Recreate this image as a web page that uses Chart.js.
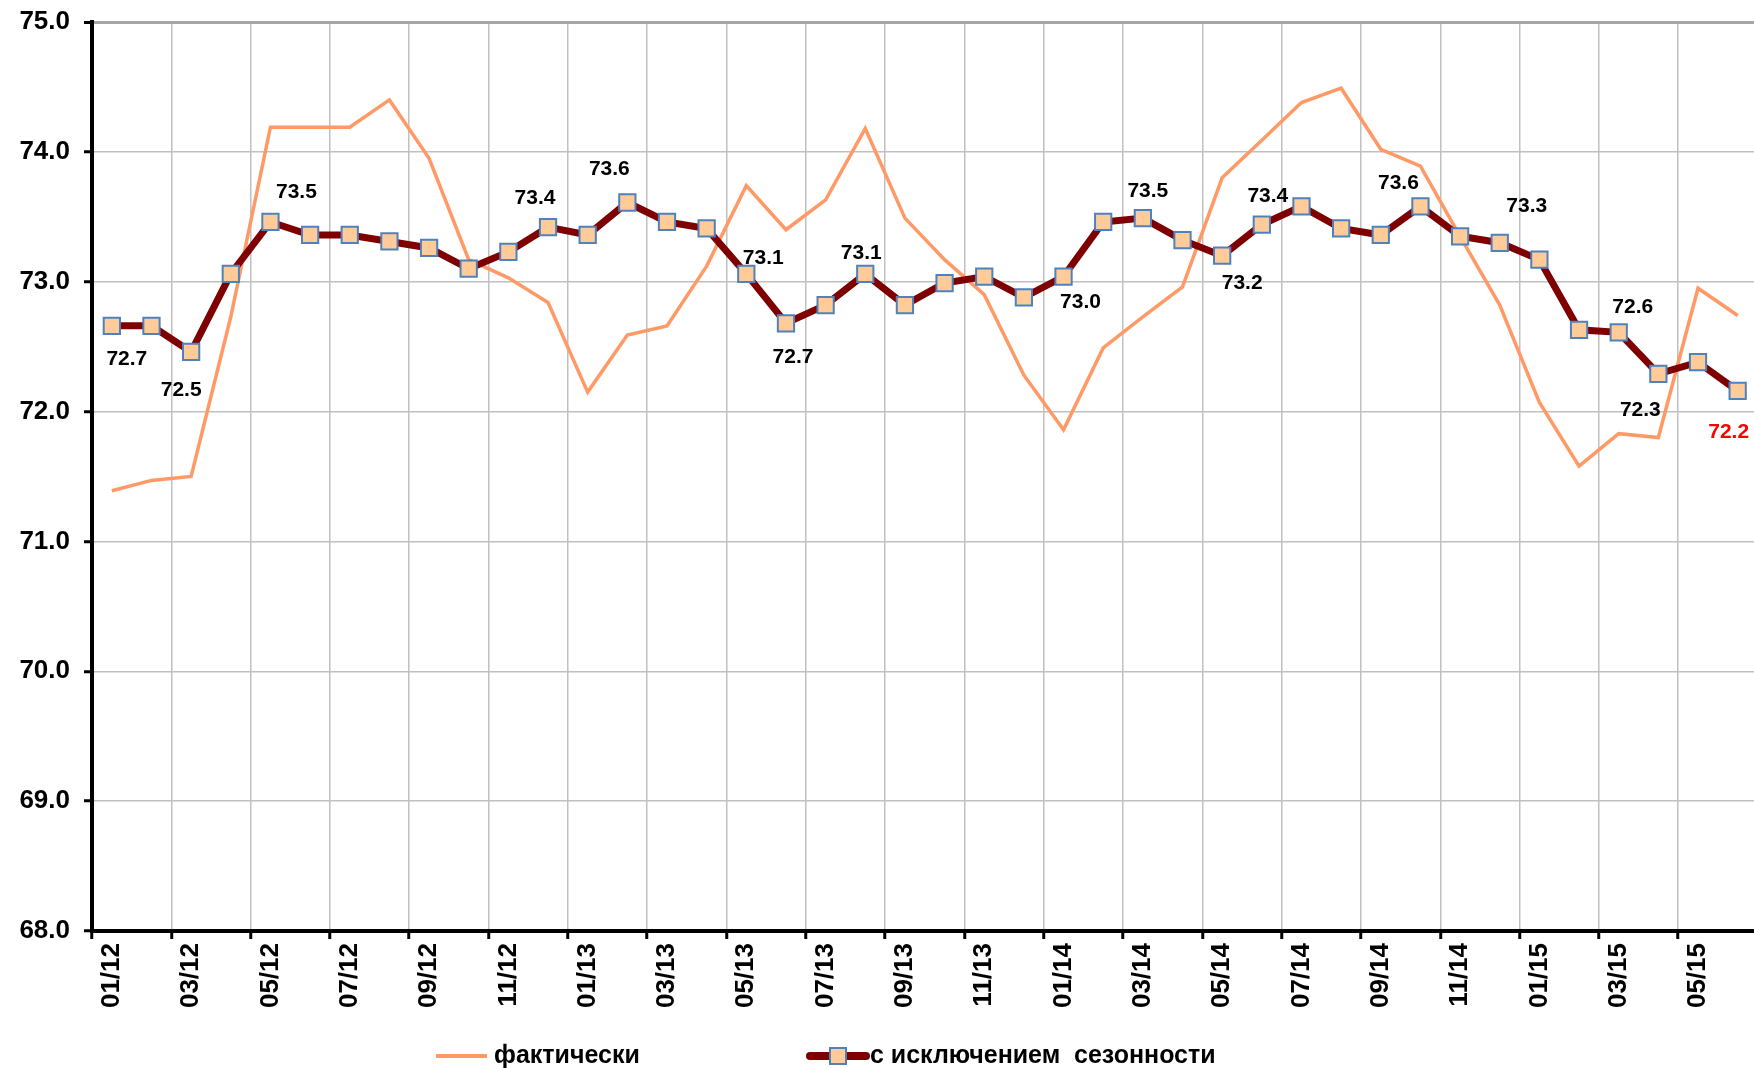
<!DOCTYPE html>
<html>
<head>
<meta charset="utf-8">
<script src="https://cdn.jsdelivr.net/npm/chart.js@4.4.1/dist/chart.umd.min.js"></script>
<style>
  html, body { margin: 0; padding: 0; background: #ffffff; overflow: hidden; }
  #wrap { width: 1771px; height: 1068px; position: relative; }
</style>
</head>
<body>
<div id="wrap"><canvas id="chart"></canvas></div>
<script>
const months = [
  "01/12", "02/12", "03/12", "04/12", "05/12", "06/12", "07/12", "08/12", "09/12", "10/12", "11/12", "12/12",
  "01/13", "02/13", "03/13", "04/13", "05/13", "06/13", "07/13", "08/13", "09/13", "10/13", "11/13", "12/13",
  "01/14", "02/14", "03/14", "04/14", "05/14", "06/14", "07/14", "08/14", "09/14", "10/14", "11/14", "12/14",
  "01/15", "02/15", "03/15", "04/15", "05/15", "06/15",
];

const actual = [
  71.39, 71.47, 71.50, 72.73, 74.19, 74.19, 74.19, 74.40, 73.95, 73.17, 73.03, 72.84,
  72.15, 72.59, 72.66, 73.12, 73.74, 73.40, 73.63, 74.18, 73.49, 73.17, 72.90, 72.28,
  71.86, 72.49, 72.73, 72.96, 73.80, 74.09, 74.38, 74.49, 74.02, 73.89, 73.35, 72.82,
  72.07, 71.58, 71.83, 71.80, 72.95, 72.74,
];

const seasonallyAdjusted = [
  72.66, 72.66, 72.46, 73.06, 73.46, 73.36, 73.36, 73.31, 73.26, 73.10, 73.23, 73.42,
  73.36, 73.61, 73.46, 73.41, 73.06, 72.68, 72.82, 73.06, 72.82, 72.99, 73.04, 72.88,
  73.04, 73.46, 73.49, 73.32, 73.20, 73.44, 73.58, 73.41, 73.36, 73.58, 73.35, 73.30,
  73.17, 72.63, 72.61, 72.29, 72.38, 72.16,
];

// points of the seasonally adjusted series that carry a value label
const labelledPoints = [0, 2, 4, 11, 13, 16, 17, 19, 24, 26, 28, 29, 33, 35, 38, 39, 41];

const seriesNames = ["фактически", "с исключением  сезонности"];

const yTicks = [68, 69, 70, 71, 72, 73, 74, 75];

// label placement around each point (px), layout only
const labelOffsets = {
  0: [15, 33], 2: [-10, 38], 4: [26, -30], 11: [-13, -29], 13: [-18, -33],
  16: [17, -16], 17: [7, 34], 19: [-4, -21], 24: [17, 26], 26: [5, -27],
  28: [20, 27], 29: [6, -28], 33: [-22, -23], 35: [27, -37], 38: [14, -25],
  39: [-18, 36], 41: [-9, 41],
};

const fontFamily = "'Liberation Sans', Arial, sans-serif";
const orange = "#ff9966";
const darkRed = "#7f0000";
const markerFill = "#ffcc99";
const markerBorder = "#4f81bd";
const gridGray = "#c0c0c0";

const valueLabels = {
  id: "valueLabels",
  afterDatasetsDraw(chart) {
    const meta = chart.getDatasetMeta(1);
    const ctx = chart.ctx;
    ctx.save();
    ctx.font = `bold 21px ${fontFamily}`;
    ctx.textAlign = "center";
    ctx.textBaseline = "middle";
    labelledPoints.forEach((index) => {
      const point = meta.data[index];
      const offset = labelOffsets[index] || [0, -28];
      ctx.fillStyle = index === seasonallyAdjusted.length - 1 ? "#ff0000" : "#000000";
      ctx.fillText(seasonallyAdjusted[index].toFixed(1), point.x + offset[0], point.y + offset[1]);
    });
    ctx.restore();
  },
};

const bottomLegend = {
  id: "bottomLegend",
  afterDraw(chart) {
    const ctx = chart.ctx;
    const y = 1056;
    ctx.save();
    ctx.font = `bold 25px ${fontFamily}`;
    ctx.textBaseline = "middle";
    ctx.fillStyle = "#000000";

    let x = 436;
    ctx.strokeStyle = orange;
    ctx.lineWidth = 4;
    ctx.beginPath();
    ctx.moveTo(x, y);
    ctx.lineTo(x + 51, y);
    ctx.stroke();
    ctx.fillText(seriesNames[0], x + 58, y);

    x = 810;
    ctx.strokeStyle = darkRed;
    ctx.lineWidth = 8;
    ctx.lineCap = "round";
    ctx.beginPath();
    ctx.moveTo(x, y);
    ctx.lineTo(x + 56, y);
    ctx.stroke();
    ctx.fillStyle = markerFill;
    ctx.strokeStyle = markerBorder;
    ctx.lineWidth = 2;
    ctx.fillRect(x + 20, y - 8, 16, 16);
    ctx.strokeRect(x + 20, y - 8, 16, 16);
    ctx.fillStyle = "#000000";
    ctx.fillText(seriesNames[1], x + 60, y);
    ctx.restore();
  },
};

new Chart(document.getElementById("chart"), {
  type: "line",
  data: {
    labels: months,
    datasets: [
      {
        label: seriesNames[0],
        data: actual,
        borderColor: orange,
        borderWidth: 3.5,
        pointRadius: 0,
        tension: 0,
        order: 2,
      },
      {
        label: seriesNames[1],
        data: seasonallyAdjusted,
        borderColor: darkRed,
        borderWidth: 7,
        pointStyle: "rect",
        pointRadius: 11.5,
        pointBackgroundColor: markerFill,
        pointBorderColor: markerBorder,
        pointBorderWidth: 2,
        tension: 0,
        order: 1,
      },
    ],
  },
  options: {
    responsive: true,
    maintainAspectRatio: false,
    animation: false,
    layout: { padding: { top: 22, right: 0, bottom: 0, left: 0 } },
    plugins: {
      legend: { display: false },
      tooltip: { enabled: false },
    },
    scales: {
      x: {
        offset: true,
        grid: {
          offset: true,
          color: (c) => (c.index % 2 === 0 ? gridGray : "transparent"),
          lineWidth: 1.5,
          tickLength: 8,
          tickWidth: 3,
          tickColor: (c) => (c.index % 2 === 0 ? "#000000" : "transparent"),
        },
        border: { color: "#000000", width: 4 },
        ticks: {
          autoSkip: false,
          minRotation: 90,
          maxRotation: 90,
          padding: 4,
          color: "#000000",
          font: { family: fontFamily, size: 26, weight: "bold" },
          callback: (value, index) => (index % 2 === 0 ? months[index] : ""),
        },
        afterFit(scale) {
          scale.height = 137;
          scale.paddingLeft = 0;
          scale.paddingRight = 0;
        },
      },
      y: {
        min: yTicks[0],
        max: yTicks[yTicks.length - 1],
        afterBuildTicks(scale) {
          scale.ticks = yTicks.map((v) => ({ value: v }));
        },
        grid: {
          color: (c) => (c.tick && c.tick.value === 75 ? "#a6a6a6" : gridGray),
          lineWidth: (c) => (c.tick && c.tick.value === 75 ? 3 : 1.5),
          tickLength: 8,
          tickWidth: 3,
          tickColor: "#000000",
        },
        border: { color: "#000000", width: 4 },
        ticks: {
          padding: 14,
          color: "#000000",
          font: { family: fontFamily, size: 26, weight: "bold" },
          callback: (value) => Number(value).toFixed(1),
        },
        afterFit(scale) {
          scale.width = 92;
          scale.paddingTop = 0;
          scale.paddingBottom = 0;
        },
      },
    },
  },
  plugins: [valueLabels, bottomLegend],
});
</script>
</body>
</html>
